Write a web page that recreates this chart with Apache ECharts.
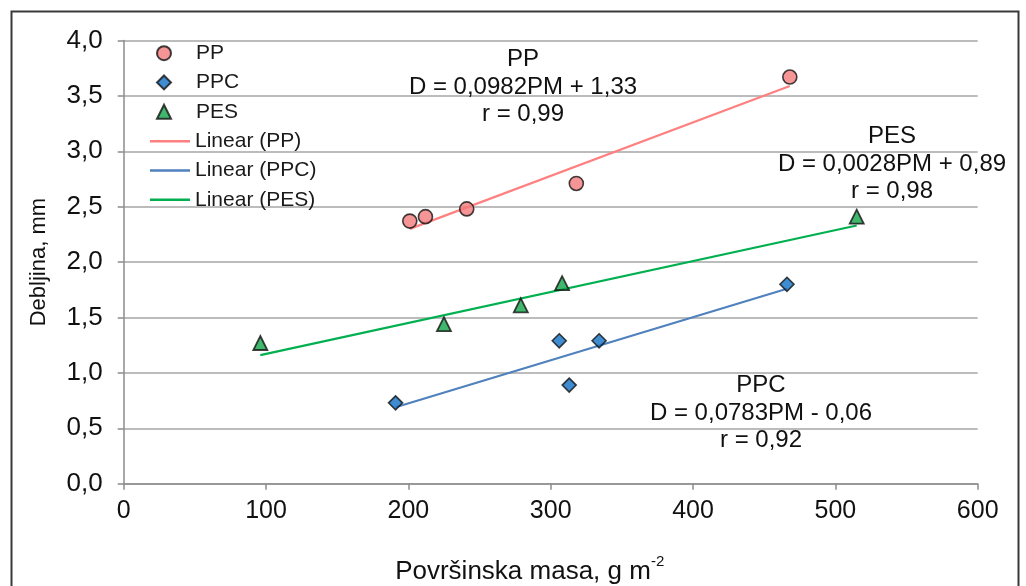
<!DOCTYPE html>
<html>
<head>
<meta charset="utf-8">
<script src="https://cdn.jsdelivr.net/npm/echarts@6/dist/echarts.min.js"></script>
<style>
html,body{margin:0;padding:0;background:#fff;}
#chart{width:1026px;height:586px;}
</style>
</head>
<body>
<div id="chart"></div>
<script>
// ---- data ----
var ppX = [201, 212, 241, 318, 468];
var ppY = [2.37, 2.41, 2.48, 2.71, 3.67];
var ppcX = [191, 306, 334, 313, 466];
var ppcY = [0.73, 1.29, 1.29, 0.89, 1.80];
var pesX = [96, 225, 279, 308, 515];
var pesY = [1.27, 1.44, 1.61, 1.81, 2.41];
// trend line end points (as drawn in the reference)
var ppTrendX = [201, 468];
var ppTrendY = [2.30, 3.59];
var ppcTrendX = [191, 466];
var ppcTrendY = [0.69, 1.76];
var pesTrendX = [96, 515];
var pesTrendY = [1.16, 2.33];
var seriesNames = ['PP', 'PPC', 'PES', 'Linear (PP)', 'Linear (PPC)', 'Linear (PES)'];
var xTicks = [0, 100, 200, 300, 400, 500, 600];
var yTicks = [0, 0.5, 1, 1.5, 2, 2.5, 3, 3.5, 4];
var annPP = ['PP', 'D = 0,0982PM + 1,33', 'r = 0,99'];
var annPES = ['PES', 'D = 0,0028PM + 0,89', 'r = 0,98'];
var annPPC = ['PPC', 'D = 0,0783PM - 0,06', 'r = 0,92'];

function zip(a, b) { return a.map(function (v, i) { return [v, b[i]]; }); }

var FONT = '"Liberation Sans", Arial, sans-serif';
var chart = echarts.init(document.getElementById('chart'), null, {renderer: 'canvas'});

var legendText = {fontFamily: FONT, fontSize: 21, color: '#1a1a1a', lineHeight: 22.3};

var option = {
  animation: false,
  backgroundColor: '#fff',
  grid: {left: 123.7, right: 48.3, top: 40.5, bottom: 102.3, containLabel: false, outerBoundsMode: 'none'},
  legend: [
    {
      orient: 'vertical',
      left: 151, top: 37,
      itemWidth: 14, itemHeight: 14, itemGap: 7,
      symbolKeepAspect: true,
      data: [
        {name: seriesNames[0], icon: 'circle'},
        {name: seriesNames[1], icon: 'diamond'},
        {name: seriesNames[2], icon: 'triangle'}
      ],
      textStyle: Object.assign({padding: [0, 0, 0, 20]}, legendText)
    },
    {
      orient: 'vertical',
      left: 145, top: 125,
      itemWidth: 40, itemHeight: 2.5, itemGap: 7,
      data: [
        {name: seriesNames[3], icon: 'rect'},
        {name: seriesNames[4], icon: 'rect'},
        {name: seriesNames[5], icon: 'rect'}
      ],
      textStyle: legendText
    }
  ],
  xAxis: {
    type: 'value', min: 0, max: 600, interval: 100,
    axisLine: {show: true, lineStyle: {color: '#8c8c8c', width: 1.5}},
    axisTick: {show: true, inside: false, length: 6, lineStyle: {color: '#8c8c8c', width: 1.5}},
    splitLine: {show: false},
    axisLabel: {margin: 15, fontFamily: FONT, fontSize: 25, color: '#111',
      formatter: function (v) { return xTicks.indexOf(v) >= 0 ? String(v) : ''; }},
    name: '{a|Površinska masa, g m}{s|-2}',
    nameLocation: 'middle', nameGap: 71,
    nameTextStyle: {
      padding: [0, 42, 0, 0],
      rich: {
        a: {fontFamily: FONT, fontSize: 26, color: '#111', verticalAlign: 'bottom', lineHeight: 30},
        s: {fontFamily: FONT, fontSize: 15, color: '#111', verticalAlign: 'top', lineHeight: 30, padding: [0, 0, 15, 0]}
      }
    }
  },
  yAxis: {
    type: 'value', min: 0, max: 4, interval: 0.5,
    axisLine: {show: true, lineStyle: {color: '#8c8c8c', width: 1.5}},
    axisTick: {show: true, inside: false, length: 6, lineStyle: {color: '#8c8c8c', width: 1.5}},
    splitLine: {show: true, lineStyle: {color: '#a6a6a6', width: 1.5}},
    axisLabel: {margin: 21, fontFamily: FONT, fontSize: 26, color: '#111',
      formatter: function (v) { return v.toFixed(1).replace('.', ','); }},
    name: 'Debljina, mm',
    nameLocation: 'middle', nameGap: 74, nameRotate: 90,
    nameTextStyle: {fontFamily: FONT, fontSize: 22, color: '#111'}
  },
  series: [
    {name: seriesNames[0], type: 'scatter', symbol: 'circle', symbolSize: 14, z: 5,
      itemStyle: {color: '#F47A7A', borderColor: '#111', borderWidth: 1.6},
      data: zip(ppX, ppY)},
    {name: seriesNames[1], type: 'scatter', symbol: 'diamond', symbolSize: 14, z: 5,
      itemStyle: {color: '#0F6FC6', borderColor: '#111', borderWidth: 1.6},
      data: zip(ppcX, ppcY)},
    {name: seriesNames[2], type: 'scatter', symbol: 'triangle', symbolSize: 14, z: 5,
      itemStyle: {color: '#12A54A', borderColor: '#111', borderWidth: 1.8},
      data: zip(pesX, pesY)},
    {name: seriesNames[3], type: 'line', symbol: 'none', z: 3,
      lineStyle: {color: '#FF8080', width: 2.2}, itemStyle: {color: '#FF8080'},
      data: zip(ppTrendX, ppTrendY)},
    {name: seriesNames[4], type: 'line', symbol: 'none', z: 3,
      lineStyle: {color: '#4F81BD', width: 2.2}, itemStyle: {color: '#4F81BD'},
      data: zip(ppcTrendX, ppcTrendY)},
    {name: seriesNames[5], type: 'line', symbol: 'none', z: 3,
      lineStyle: {color: '#00B050', width: 2.2}, itemStyle: {color: '#00B050'},
      data: zip(pesTrendX, pesTrendY)}
  ],
  graphic: [
    {type: 'rect', left: 9, top: 9, z: 100, silent: true,
      shape: {width: 1007, height: 600},
      style: {fill: 'none', stroke: '#3a3a3a', lineWidth: 2}},
    {type: 'text', x: 523, y: 87, z: 50,
      style: {text: annPP.join('\n'), fontFamily: FONT, fontSize: 24, fill: '#111',
        align: 'center', verticalAlign: 'middle', lineHeight: 27.5}},
    {type: 'text', x: 892, y: 164, z: 50,
      style: {text: annPES.join('\n'), fontFamily: FONT, fontSize: 24, fill: '#111',
        align: 'center', verticalAlign: 'middle', lineHeight: 27.5}},
    {type: 'text', x: 761, y: 413, z: 50,
      style: {text: annPPC.join('\n'), fontFamily: FONT, fontSize: 24, fill: '#111',
        align: 'center', verticalAlign: 'middle', lineHeight: 27.5}}
  ]
};
chart.setOption(option);
</script>
</body>
</html>
